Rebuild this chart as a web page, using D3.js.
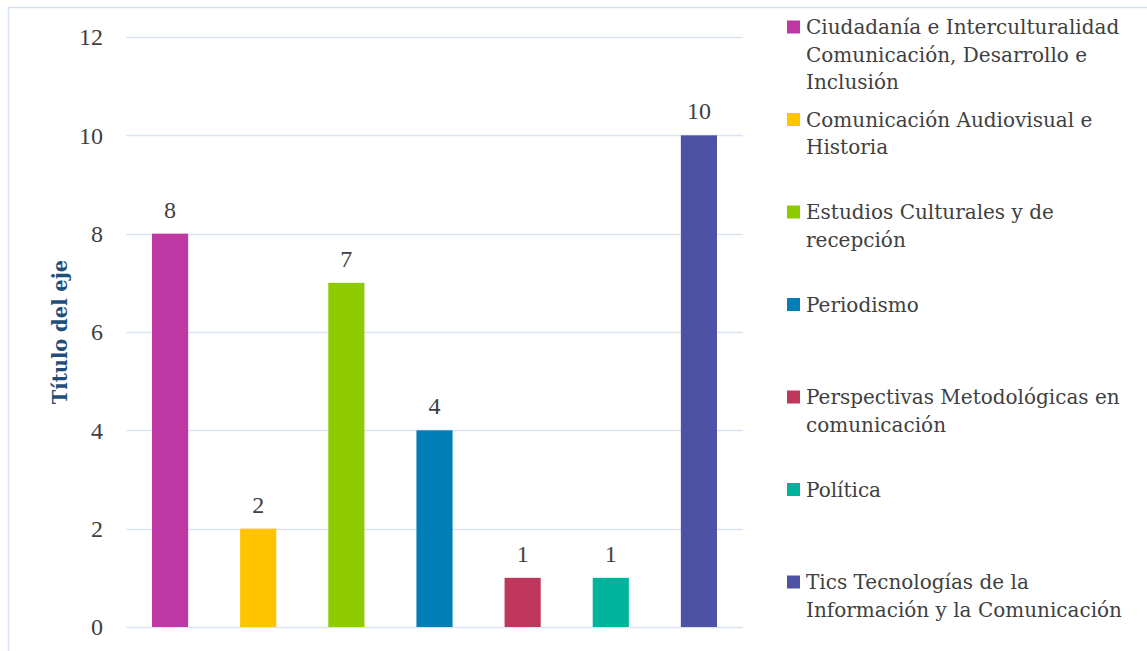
<!DOCTYPE html>
<html lang="es">
<head>
  <meta charset="utf-8">
  <title>Título del eje</title>
  <script src="https://d3js.org/d3.v7.min.js"></script>
  <style>
    body { margin: 0; background: #fff; }
    text { font-family: "DejaVu Serif", serif; fill: #404040; }
  </style>
</head>
<body>
<svg width="1147" height="651"></svg>
<script>

// categories, one legend entry each (lines as they wrap in the legend)
var categories = [
  ["Ciudadanía e Interculturalidad", "Comunicación, Desarrollo e", "Inclusión"],
  ["Comunicación Audiovisual e", "Historia"],
  ["Estudios Culturales y de", "recepción"],
  ["Periodismo"],
  ["Perspectivas Metodológicas en", "comunicación"],
  ["Política"],
  ["Tics Tecnologías de la", "Información y la Comunicación"]
];
var values = [8, 2, 7, 4, 1, 1, 10];
var colors = ["#BE37A2", "#FFC400", "#8DCB00", "#007FB6", "#BF375D", "#00B39B", "#4E52A5"];
var yTicks = [0, 2, 4, 6, 8, 10, 12];

var svg = d3.select("svg");

// outer chart border
svg.append("rect")
    .attr("x", 8.5).attr("y", 7.5)
    .attr("width", 1200).attr("height", 700)
    .attr("fill", "none")
    .attr("stroke", "#D6E1F2")
    .attr("stroke-width", 1.5);

var x = d3.scaleBand()
    .domain(d3.range(values.length))
    .range([126, 743])
    .paddingInner(0.59)
    .paddingOuter(0.295);

var y = d3.scaleLinear()
    .domain([0, 12])
    .range([627, 37]);

// gridlines
svg.append("g")
  .selectAll("line")
  .data(yTicks)
  .enter().append("line")
    .attr("x1", 126).attr("x2", 743)
    .attr("y1", function(d) { return Math.round(y(d)) + 0.5; })
    .attr("y2", function(d) { return Math.round(y(d)) + 0.5; })
    .attr("stroke", "#D9E3F3")
    .attr("stroke-width", 1.5);

// y axis labels
var yAxis = svg.append("g")
    .attr("transform", "translate(114,0)")
    .call(d3.axisLeft(y).tickValues(yTicks).tickSize(0).tickPadding(11));
yAxis.select(".domain").remove();
yAxis.selectAll("text")
    .attr("fill", "#404040")
    .style("font-family", "Liberation Serif, serif")
    .style("font-size", "24px");

// axis title
svg.append("text")
    .attr("transform", "translate(67,332) rotate(-90)")
    .attr("text-anchor", "middle")
    .style("font-size", "19.5px")
    .style("font-weight", "bold")
    .style("fill", "#1F4E79")
    .text("Título del eje");

// bars
svg.append("g")
  .selectAll("rect")
  .data(values)
  .enter().append("rect")
    .attr("x", function(d, i) { return x(i); })
    .attr("y", function(d) { return y(d); })
    .attr("width", x.bandwidth())
    .attr("height", function(d) { return y(0) - y(d); })
    .attr("fill", function(d, i) { return colors[i]; });

// value labels
svg.append("g")
  .selectAll("text")
  .data(values)
  .enter().append("text")
    .attr("x", function(d, i) { return x(i) + x.bandwidth() / 2; })
    .attr("y", function(d) { return y(d) - 16; })
    .attr("text-anchor", "middle")
    .style("font-family", "Liberation Serif, serif")
    .style("font-size", "24px")
    .text(function(d) { return d; });

// legend
var legend = svg.append("g")
  .selectAll("g")
  .data(categories)
  .enter().append("g")
    .attr("transform", function(d, i) { return "translate(787," + (27 + i * 92.5) + ")"; });

legend.append("rect")
    .attr("x", 0).attr("y", -6.5)
    .attr("width", 13).attr("height", 13)
    .attr("fill", function(d, i) { return colors[i]; });

legend.append("text")
    .style("font-size", "20px")
    .selectAll("tspan")
    .data(function(d) { return d; })
    .enter().append("tspan")
      .attr("x", 19)
      .attr("y", function(d, j) { return j * 27.5 + 7; })
      .text(function(d) { return d; });

</script>
</body>
</html>
